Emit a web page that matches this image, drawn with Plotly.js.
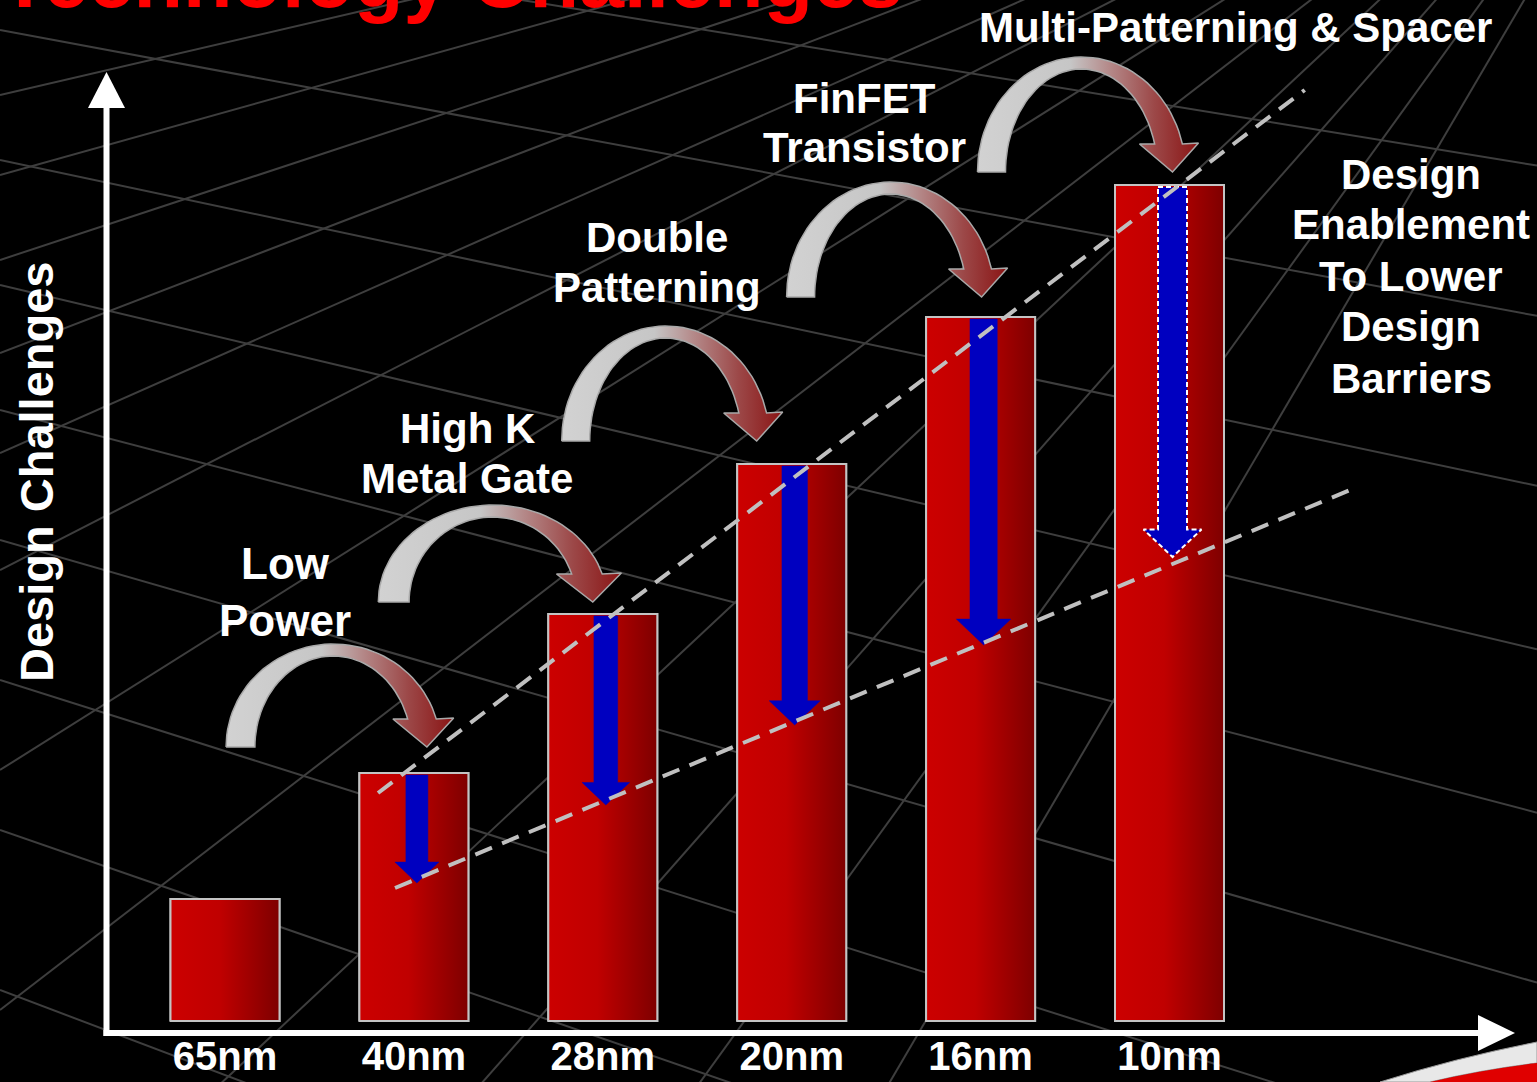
<!DOCTYPE html>
<html><head><meta charset="utf-8">
<script src="https://cdn.plot.ly/plotly-3.0.1.min.js"></script>
<style>html,body{margin:0;padding:0;background:#000;overflow:hidden}</style>
</head><body><div id="chart" style="width:1537px;height:1082px"></div>
<script>
// ---------------- data ----------------
const nodes = ['65nm','40nm','28nm','20nm','16nm','10nm'];
const designChallenge = [1.22, 2.48, 4.07, 5.57, 7.04, 8.36];     // bar heights
const withEnablement = [null, 1.38, 2.16, 2.96, 3.76, 4.64];      // blue arrow tips
const transitions = ['Low Power','High K Metal Gate','Double Patterning','FinFET Transistor','Multi-Patterning & Spacer'];
const trendUpperX = [0.81, 5.716];
const trendUpperY = [2.28, 9.31];
const trendLowerX = [0.90, 5.956];
const trendLowerY = [1.33, 5.31];

// ---------------- layout helpers ----------------
const W=1537, H=1082, X0=225, DX=188.9, Y0=1021, DY=100;
const px2x=p=>(p-X0)/DX, py2y=p=>(Y0-p)/DY, x2px=x=>X0+x*DX, y2py=y=>Y0-y*DY;
const pX=p=>p/W, pY=p=>1-p/H;
const FONT='Liberation Sans, Arial, sans-serif';

const traces=[];
const barW = 109/DX;
traces.push({type:'bar', x:nodes.map((_,i)=>i), y:designChallenge, width:barW,
  marker:{color:'#b40000', line:{color:'#c4c4c4', width:2}}, hoverinfo:'skip'});

// gradient faces of bars
designChallenge.forEach((v,i)=>{
  traces.push({type:'scatter', mode:'lines', x:[i-barW/2,i+barW/2,i+barW/2,i-barW/2,i-barW/2], y:[0,0,v,v,0],
    fill:'toself', fillcolor:'#b40000',
    fillgradient:{type:'horizontal', colorscale:[[0,'#cc0000'],[0.45,'#c00000'],[1,'#7e0000']]},
    line:{color:'#c4c4c4', width:2}, hoverinfo:'skip'});
});

// curved transition arrows (anchored to the target bar top)
const calloutOffset=[[13,26],[-10,12],[-35,23],[1,20],[3,13]];
const calloutShape=[[1.03,103],[1.10,97],[1,115],[1,115],[1,115]];
function curvedArrow(tipX, tipY, sx, ry){
  const cx=tipX-91*sx, by=tipY;
  const rxO=104*sx, ryO=ry, rxI=76*sx, ryI=ry-12;
  const tO=Math.asin(28/ryO), tI=Math.asin(28/ryI);
  const xs=[], ys=[], N=50;
  for(let k=0;k<=N;k++){const t=Math.PI-(Math.PI-tO)*k/N; xs.push(cx+rxO*Math.cos(t)); ys.push(by-ryO*Math.sin(t));}
  xs.push(cx+117*sx); ys.push(by-29);
  xs.push(cx+91*sx); ys.push(by);
  xs.push(cx+58*sx); ys.push(by-28);
  for(let k=0;k<=N;k++){const t=tI+(Math.PI-tI)*k/N; xs.push(cx+rxI*Math.cos(t)); ys.push(by-ryI*Math.sin(t));}
  xs.push(xs[0]); ys.push(ys[0]);
  return {x:xs.map(px2x), y:ys.map(py2y)};
}
transitions.forEach((t,k)=>{
  const i=k+1;
  const tipX=x2px(i)+calloutOffset[k][0], tipY=y2py(designChallenge[i])-calloutOffset[k][1];
  const a=curvedArrow(tipX, tipY, calloutShape[k][0], calloutShape[k][1]);
  traces.push({type:'scatter', mode:'lines', x:a.x, y:a.y, fill:'toself', fillcolor:'#c0c0c0',
    fillgradient:{type:'horizontal', colorscale:[[0,'#d2d2d2'],[0.42,'#c6c6c6'],[0.6,'#b48888'],[0.8,'#9c4848'],[1,'#8a1414']]},
    line:{color:'#a9a9a9', width:1.5}, hoverinfo:'skip', name:t});
});

// blue down arrows
withEnablement.forEach((v,i)=>{
  if(v===null) return;
  const w=22+1.75*(i-1), hw=w/2, hh=w*0.95;
  const xc=x2px(i)+3, top=y2py(designChallenge[i])+2, tip=y2py(v);
  const pts=[[xc-hw,top],[xc+hw,top],[xc+hw,tip-hh],[xc+w,tip-hh],[xc,tip],[xc-w,tip-hh],[xc-hw,tip-hh],[xc-hw,top]];
  const last = i===withEnablement.length-1;
  traces.push({type:'scatter', mode:'lines', x:pts.map(p=>px2x(p[0])), y:pts.map(p=>py2y(p[1])),
    fill:'toself', fillcolor:'#0000c0',
    line: last?{color:'#ffffff', width:2, dash:'5px,3px'}:{color:'#0000c0', width:0.5}, hoverinfo:'skip'});
});

// dashed trend lines
[[trendUpperX,trendUpperY],[trendLowerX,trendLowerY]].forEach(([x,y])=>{
  traces.push({type:'scatter', mode:'lines', x, y, line:{color:'#c0c0c0', width:4, dash:'18px,11px'}, hoverinfo:'skip'});
});

// ---------------- shapes ----------------
const shapes=[];
// perspective floor grid (decoration)
const gridCol='#3e3e3e';
[-85,30,160,285,410,540,680,830,990].forEach(b=>{
  const s=(b+900)/5000;
  shapes.push({type:'line', xref:'paper', yref:'paper', x0:0, y0:pY(b), x1:1, y1:pY(b+s*W), line:{color:gridCol,width:2}, layer:'below'});
});
[95,175,260,353,453,570,770,1010,1290,1630,2050,2600].forEach(b=>{
  shapes.push({type:'line', xref:'paper', yref:'paper', x0:0, y0:pY(b), x1:pX(1700), y1:pY(-300), line:{color:gridCol,width:2}, layer:'below'});
});
function pathPx(pts){return 'M '+pts.map(p=>pX(p[0]).toFixed(5)+','+pY(p[1]).toFixed(5)).join(' L ')+' Z';}
// axes arrows
shapes.push({type:'line', xref:'paper', yref:'paper', x0:pX(103.5), x1:pX(1482), y0:pY(1033), y1:pY(1033), line:{color:'#ffffff',width:6}});
shapes.push({type:'path', xref:'paper', yref:'paper', path:pathPx([[1478,1015],[1515,1033],[1478,1051]]), fillcolor:'#ffffff', line:{width:0}});
shapes.push({type:'line', xref:'paper', yref:'paper', x0:pX(106.5), x1:pX(106.5), y0:pY(1036), y1:pY(100), line:{color:'#ffffff',width:6}});
shapes.push({type:'path', xref:'paper', yref:'paper', path:pathPx([[88,108],[106.5,72],[125,108]]), fillcolor:'#ffffff', line:{width:0}});
// slide swoosh bottom-right
shapes.push({type:'path', xref:'paper', yref:'paper',
  path:`M ${pX(1380)},${pY(1082)} Q ${pX(1455)},${pY(1058)} ${pX(1537)},${pY(1042)} L ${pX(1537)},${pY(1063)} Q ${pX(1480)},${pY(1070)} ${pX(1430)},${pY(1082)} Z`,
  fillcolor:'#e8e8e8', line:{color:'#9a9a9a', width:1}});
shapes.push({type:'path', xref:'paper', yref:'paper',
  path:`M ${pX(1430)},${pY(1082)} Q ${pX(1480)},${pY(1070)} ${pX(1537)},${pY(1063)} L ${pX(1537)},${pY(1082)} Z`,
  fillcolor:'#e00000', line:{width:0}});

// ---------------- annotations ----------------
const ann=[];
function txt(t,x,y,size,extra){ann.push(Object.assign({text:'<b>'+t+'</b>', xref:'paper', yref:'paper', x:pX(x), y:pY(y), xanchor:'center', yanchor:'middle', showarrow:false, font:{family:FONT,size:size,color:'#ffffff'}},extra||{}));}
txt('Low',285,563,44); txt('Power',285,620,44);
txt('High K',467,428,42); txt('Metal Gate',467,478,42);
txt('Double',657,237,42); txt('Patterning',657,287,42);
txt('FinFET',865,98,42); txt('Transistor',865,148,42);
txt(transitions[4],1235,28,42);
['Design','Enablement','To Lower','Design','Barriers'].forEach((t,k)=>txt(t,1411,174+51*k,42));
txt('Design Challenges',37,472,47,{textangle:-90});
ann.push({text:'<b>Technology Challenges</b>', xref:'paper', yref:'paper', x:pX(-2), y:pY(26), xanchor:'left', yanchor:'bottom', showarrow:false, font:{family:FONT,size:81,color:'#ff0000'}});

const layout={
  width:W, height:H, margin:{l:0,r:0,t:0,b:0}, paper_bgcolor:'#000000', plot_bgcolor:'rgba(0,0,0,0)',
  showlegend:false, bargap:0,
  xaxis:{domain:[106/W,1], range:[px2x(106),px2x(W)], tickmode:'array', tickvals:nodes.map((_,i)=>i), ticktext:nodes,
    showgrid:false, zeroline:false, showline:false, ticks:'', ticklabelstandoff:-4,
    tickfont:{family:FONT,size:40,color:'#ffffff',weight:'bold'}, fixedrange:true},
  yaxis:{domain:[1-1033/H,1], range:[py2y(1033),py2y(0)], showgrid:false, zeroline:false, showline:false,
    showticklabels:false, ticks:'', fixedrange:true},
  shapes, annotations:ann
};
Plotly.newPlot('chart', traces, layout, {staticPlot:true, displayModeBar:false});
</script></body></html>
